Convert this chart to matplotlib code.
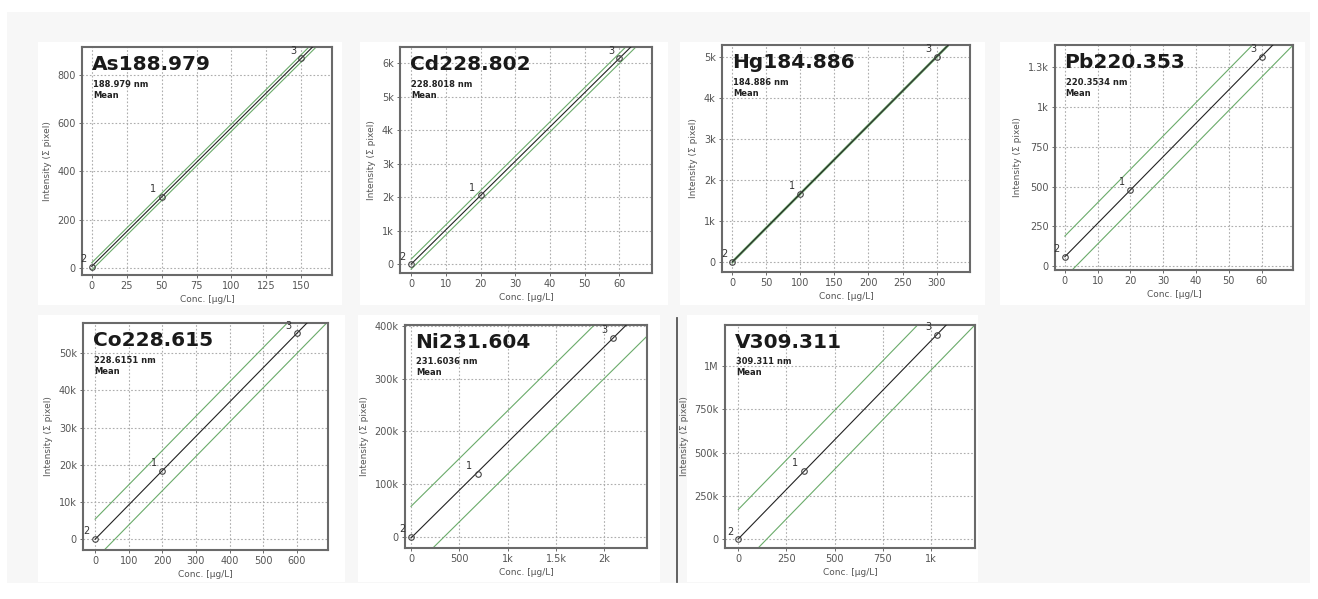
import matplotlib
matplotlib.use("Agg")
import matplotlib.pyplot as plt
import numpy as np
from matplotlib.patches import Rectangle
from matplotlib.lines import Line2D

# ---------------- data ----------------
titles = ["As188.979", "Cd228.802", "Hg184.886", "Pb220.353",
          "Co228.615", "Ni231.604", "V309.311"]
wavelengths = ["188.979 nm", "228.8018 nm", "184.886 nm", "220.3534 nm",
               "228.6151 nm", "231.6036 nm", "309.311 nm"]
point_labels = ["2", "1", "3"]

as_conc = [0, 50, 150];     as_int = [5, 295, 869]
cd_conc = [0, 20, 60];      cd_int = [0, 2060, 6150]
hg_conc = [0, 100, 300];    hg_int = [0, 1655, 5015]
pb_conc = [0, 20, 60];      pb_int = [57, 480, 1317]
co_conc = [0, 200, 600];    co_int = [0, 18400, 55300]
ni_conc = [0, 690, 2090];   ni_int = [0, 120000, 378000]
v_conc = [0, 340, 1030];    v_int = [0, 395000, 1180000]

# half-width of the green bands around the calibration line
band_as = 15; band_cd = 150; band_hg = 25; band_pb = 130
band_co = 5400; band_ni = 60000; band_v = 170000

xt_as = [0, 25, 50, 75, 100, 125, 150]; xl_as = ["0", "25", "50", "75", "100", "125", "150"]
yt_as = [0, 200, 400, 600, 800];         yl_as = ["0", "200", "400", "600", "800"]
xt_cd = [0, 10, 20, 30, 40, 50, 60];     xl_cd = ["0", "10", "20", "30", "40", "50", "60"]
yt_cd = [0, 1000, 2000, 3000, 4000, 5000, 6000]; yl_cd = ["0", "1k", "2k", "3k", "4k", "5k", "6k"]
xt_hg = [0, 50, 100, 150, 200, 250, 300]; xl_hg = ["0", "50", "100", "150", "200", "250", "300"]
yt_hg = [0, 1000, 2000, 3000, 4000, 5000]; yl_hg = ["0", "1k", "2k", "3k", "4k", "5k"]
xt_pb = [0, 10, 20, 30, 40, 50, 60];     xl_pb = ["0", "10", "20", "30", "40", "50", "60"]
yt_pb = [0, 250, 500, 750, 1000, 1250];  yl_pb = ["0", "250", "500", "750", "1k", "1.3k"]
xt_co = [0, 100, 200, 300, 400, 500, 600]; xl_co = ["0", "100", "200", "300", "400", "500", "600"]
yt_co = [0, 10000, 20000, 30000, 40000, 50000]; yl_co = ["0", "10k", "20k", "30k", "40k", "50k"]
xt_ni = [0, 500, 1000, 1500, 2000];      xl_ni = ["0", "500", "1k", "1.5k", "2k"]
yt_ni = [0, 100000, 200000, 300000, 400000]; yl_ni = ["0", "100k", "200k", "300k", "400k"]
xt_v = [0, 250, 500, 750, 1000];         xl_v = ["0", "250", "500", "750", "1k"]
yt_v = [0, 250000, 500000, 750000, 1000000]; yl_v = ["0", "250k", "500k", "750k", "1M"]

# ---------------- layout (pixels) ----------------
W, H = 1318, 599
panels = [
    # conc, int, band, xticks, xlabels, yticks, ylabels, xlim, ylim, (l, r, t, b)
    (as_conc, as_int, band_as, xt_as, xl_as, yt_as, yl_as, (-7, 172), (-30, 916), (82, 332, 47, 275)),
    (cd_conc, cd_int, band_cd, xt_cd, xl_cd, yt_cd, yl_cd, (-3.2, 69.4), (-260, 6490), (400, 652, 47, 273)),
    (hg_conc, hg_int, band_hg, xt_hg, xl_hg, yt_hg, yl_hg, (-15, 349), (-250, 5300), (722, 970, 45, 272)),
    (pb_conc, pb_int, band_pb, xt_pb, xl_pb, yt_pb, yl_pb, (-3, 69.6), (-25, 1390), (1055, 1293, 45, 270)),
    (co_conc, co_int, band_co, xt_co, xl_co, yt_co, yl_co, (-36, 693), (-2900, 58100), (83, 328, 323, 550)),
    (ni_conc, ni_int, band_ni, xt_ni, xl_ni, yt_ni, yl_ni, (-62, 2442), (-21000, 402000), (405, 647, 325, 548)),
    (v_conc, v_int, band_v, xt_v, xl_v, yt_v, yl_v, (-69, 1228), (-50000, 1237000), (725, 975, 325, 548)),
]
panel_bg = [(38, 342, 42, 305), (360, 668, 42, 305), (680, 985, 42, 305), (1000, 1305, 42, 305),
            (38, 345, 315, 582), (358, 660, 315, 582), (687, 978, 315, 582)]

fig = plt.figure(figsize=(W / 100, H / 100), dpi=100)
fig.patch.set_facecolor("white")

def fx(x):
    return x / W

def fy(y):
    return 1 - y / H

# light grey backdrop and white panel backgrounds
fig.add_artist(Rectangle((fx(7), fy(583)), fx(1310) - fx(7), fy(12) - fy(583),
                         transform=fig.transFigure, facecolor="#f7f7f7", edgecolor="none", zorder=-3))
for (l, r, t, b) in panel_bg:
    fig.add_artist(Rectangle((fx(l), fy(b)), fx(r) - fx(l), fy(t) - fy(b),
                             transform=fig.transFigure, facecolor="white", edgecolor="none", zorder=-2))
# separator line
fig.add_artist(Line2D([fx(677), fx(677)], [fy(582), fy(318)], transform=fig.transFigure,
                      color="#555555", lw=1.3))

green = "#6aab6a"
for i, (conc, inten, band, xt, xl, yt, yl, xlim, ylim, (l, r, t, b)) in enumerate(panels):
    ax = fig.add_axes([fx(l), fy(b), fx(r) - fx(l), fy(t) - fy(b)])
    ax.set_facecolor("white")
    conc = np.asarray(conc, float)
    inten = np.asarray(inten, float)
    slope, icpt = np.polyfit(conc, inten, 1)
    xs = np.array([0, xlim[1] * 1.2])
    ax.plot(xs, slope * xs + icpt + band, color=green, lw=0.8, zorder=2)
    ax.plot(xs, slope * xs + icpt - band, color=green, lw=0.8, zorder=2)
    ax.plot(xs, slope * xs + icpt, color="#222222", lw=0.8, zorder=3)
    ax.plot(conc, inten, "o", ms=4, mfc="none", mec="#444444", mew=0.8, zorder=4)
    for cx, cy, lab in zip(conc, inten, point_labels):
        ax.annotate(lab, (cx, cy), xytext=(-6, 2), textcoords="offset points",
                    fontsize=7, color="#333333", ha="center", va="bottom")
    ax.set_xlim(*xlim)
    ax.set_ylim(*ylim)
    ax.set_xticks(xt)
    ax.set_xticklabels(xl)
    ax.set_yticks(yt)
    ax.set_yticklabels(yl)
    ax.tick_params(labelsize=7, labelcolor="#555555", length=2.5, width=0.6,
                   color="#555555", pad=2)
    ax.grid(True, ls=(0, (1.5, 1.8)), color="#adadad", lw=0.8)
    ax.set_axisbelow(True)
    for s in ax.spines.values():
        s.set_color("#6a6a6a")
        s.set_linewidth(1.5)
    ax.set_xlabel("Conc. [µg/L]", fontsize=6.5, color="#555555", labelpad=3)
    ax.set_ylabel("Intensity (Σ pixel)", fontsize=6.5, color="#555555", labelpad=4)
    ax.text(0.04, 0.965, titles[i], transform=ax.transAxes, fontsize=14.5,
            fontweight="bold", color="#1a1a1a", ha="left", va="top", zorder=6)
    ax.text(0.045, 0.855, wavelengths[i], transform=ax.transAxes, fontsize=6,
            fontweight="bold", color="#222222", ha="left", va="top", zorder=6)
    ax.text(0.045, 0.805, "Mean", transform=ax.transAxes, fontsize=6,
            fontweight="bold", color="#222222", ha="left", va="top", zorder=6)

fig.savefig("out.png", dpi=100, facecolor=fig.get_facecolor())
